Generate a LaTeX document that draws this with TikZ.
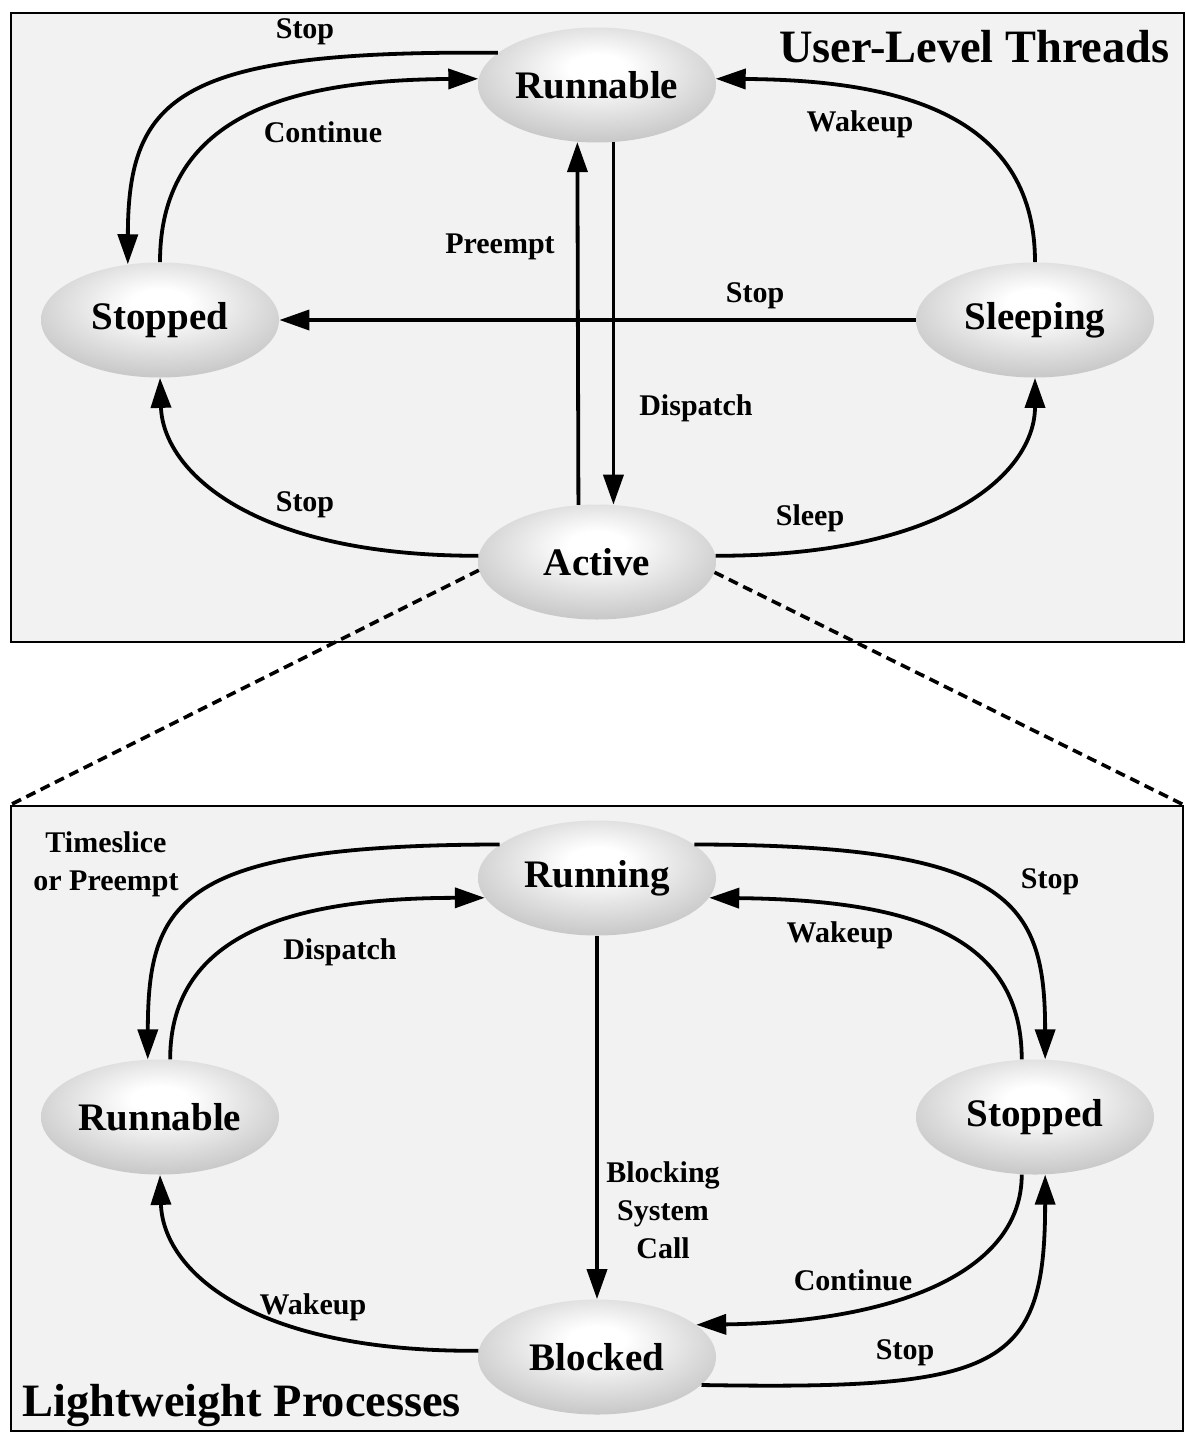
\documentclass[tikz,border=0pt]{standalone}
\usepackage{fontspec}
\setmainfont{Liberation Serif}
\usetikzlibrary{arrows.meta,shapes.geometric}

\definecolor{panelgray}{HTML}{F2F2F2}
% soft highlight for the state bubbles, brightest a little above centre
\pgfdeclareradialshading{stateshade}{\pgfpoint{0bp}{8bp}}{%
  color(0bp)=(white); color(6bp)=(white); color(50bp)=(black!40); color(80bp)=(black!40)}

\tikzset{
  panel/.style={draw=black, line width=1pt, fill=panelgray, rectangle, inner sep=0pt, anchor=north west},
  state/.style={ellipse, shading=stateshade, minimum width=119pt, minimum height=57.5pt,
                inner sep=0pt, font=\fontsize{19.5}{22}\selectfont\bfseries},
  trans/.style={line width=1.9pt, -{Triangle[length=15pt,width=10pt]}},
  lbl/.style={font=\fontsize{15}{19}\selectfont\bfseries, inner sep=0pt, align=center},
  title/.style={font=\fontsize{23.2}{26}\selectfont\bfseries, inner sep=0pt},
  zoomline/.style={line width=1.8pt, dash pattern=on 5pt off 3pt},
}

\begin{document}
\begin{tikzpicture}[x=0.5pt, y=-0.5pt]
\useasboundingbox (0,0) rectangle (1185,1434);

% panels
\node[panel, minimum width=586.5pt, minimum height=314.5pt] (ultBox) at (10,12) {};
\node[panel, minimum width=586pt, minimum height=312.5pt] (lwpBox) at (10,805) {};

\node[title, anchor=east] (ultTitle) at (1170,47) {User-Level Threads};
\node[title, anchor=west] (lwpTitle) at (22,1406) {Lightweight Processes};

% user-level thread states
\node[state] (tRun)   at (597,85)  {Runnable};
\node[state] (tStop)  at (160,320) {Stopped};
\node[state] (tSleep) at (1035,320) {Sleeping};
\node[state] (tAct)   at (597,562) {Active};

% lightweight process states
\node[state] (bRun)  at (597,878)  {Running};
\node[state] (bRbl)  at (160,1117) {Runnable};
\node[state] (bStop) at (1035,1117) {Stopped};
\node[state] (bBlk)  at (597,1357) {Blocked};

% expansion of the Active state
\draw[zoomline] (tAct.184) -- (lwpBox.north west);
\draw[zoomline] (tAct.-5) -- (lwpBox.north east);

% user-level thread transitions
\draw[trans] (tRun.162) .. controls (180,50) and (128,95) .. (tStop.120);
\draw[trans] (tStop.north) .. controls (160,110) and (300,80) .. (tRun.177);
\draw[trans] (tSleep.north) .. controls (1035,110) and (890,80) .. (tRun.3);
\draw[trans] (tAct.108.5) -- (tRun.251.5);
\draw[trans] (tRun.-74.3) -- (tAct.74.3);
\draw[trans] (tSleep.west) -- (tStop.east);
\draw[trans] (tAct.177) .. controls (250,556) and (163,470) .. (tStop.south);
\draw[trans] (tAct.3) .. controls (950,556) and (1035,470) .. (tSleep.south);

\node[lbl] (lStop1)  at (305,32)  {Stop};
\node[lbl] (lCont1)  at (323,132) {Continue};
\node[lbl] (lWake1)  at (860,124) {Wakeup};
\node[lbl] (lPre)    at (500,247) {Preempt};
\node[lbl] (lStop2)  at (755,296) {Stop};
\node[lbl] (lDisp1)  at (696,408) {Dispatch};
\node[lbl] (lStop3)  at (305,505) {Stop};
\node[lbl] (lSleep)  at (810,518) {Sleep};

% lightweight process transitions
\draw[trans] (bRun.161) .. controls (180,845) and (148,900) .. (bRbl.102);
\draw[trans] (bRbl.80) .. controls (170,930) and (300,898) .. (bRun.190);
\draw[trans] (bRun.19) .. controls (1010,845) and (1045,900) .. (bStop.80);
\draw[trans] (bStop.103) .. controls (1022,930) and (900,900) .. (bRun.350);
\draw[trans] (bRun.south) -- (bBlk.north);
\draw[trans] (bBlk.177) .. controls (250,1352) and (163,1270) .. (bRbl.south);
\draw[trans] (bStop.257) .. controls (1022,1270) and (900,1322) .. (bBlk.18);
\draw[trans] (bBlk.-15) .. controls (1000,1390) and (1045,1370) .. (bStop.280);

\node[lbl] (lTime)   at (106,864)  {Timeslice\\or Preempt};
\node[lbl] (lDisp2)  at (340,952)  {Dispatch};
\node[lbl] (lStop4)  at (1050,882) {Stop};
\node[lbl] (lWake2)  at (840,935)  {Wakeup};
\node[lbl] (lBlock)  at (663,1210) {Blocking\\System\\Call};
\node[lbl] (lWake3)  at (313,1307) {Wakeup};
\node[lbl] (lCont2)  at (853,1280) {Continue};
\node[lbl] (lStop5)  at (905,1353) {Stop};
\end{tikzpicture}
\end{document}
